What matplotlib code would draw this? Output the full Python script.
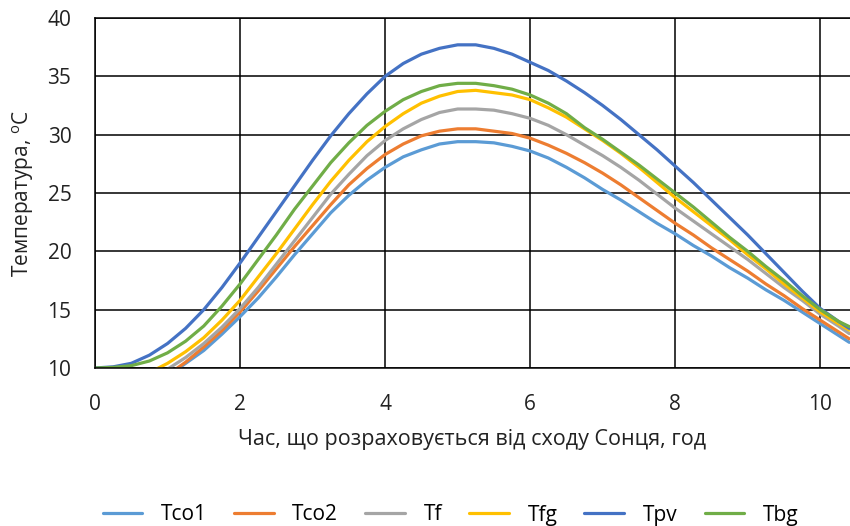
import matplotlib
matplotlib.use("Agg")
import matplotlib.pyplot as plt

plt.rcParams['font.family'] = ['Open Sans', 'DejaVu Sans']

hours = [0, 0.25, 0.5, 0.75, 1.0, 1.25, 1.5, 1.75, 2.0, 2.25, 2.5, 2.75,
         3.0, 3.25, 3.5, 3.75, 4.0, 4.25, 4.5, 4.75, 5.0, 5.25, 5.5, 5.75,
         6.0, 6.25, 6.5, 6.75, 7.0, 7.25, 7.5, 7.75, 8.0, 8.25, 8.5, 8.75,
         9.0, 9.25, 9.5, 9.75, 10.0, 10.25, 10.4]

t_co1 = [7.0, 7.2, 7.6, 8.3, 9.3, 10.4, 11.5, 12.9, 14.4, 16.0, 17.8, 19.7,
         21.5, 23.3, 24.8, 26.1, 27.2, 28.1, 28.7, 29.2, 29.4, 29.4, 29.3, 29.0,
         28.6, 28.0, 27.2, 26.3, 25.3, 24.4, 23.4, 22.4, 21.5, 20.5, 19.6, 18.6,
         17.7, 16.7, 15.8, 14.8, 13.8, 12.8, 12.2]
t_co2 = [7.0, 7.2, 7.7, 8.4, 9.4, 10.5, 11.8, 13.2, 14.8, 16.6, 18.5, 20.4,
         22.2, 24.0, 25.7, 27.1, 28.3, 29.2, 29.9, 30.3, 30.5, 30.5, 30.3, 30.1,
         29.7, 29.1, 28.4, 27.6, 26.7, 25.7, 24.6, 23.5, 22.4, 21.4, 20.3, 19.3,
         18.3, 17.2, 16.2, 15.1, 14.1, 13.1, 12.5]
t_f = [7.5, 7.7, 8.2, 8.9, 9.9, 10.9, 12.1, 13.5, 15.1, 16.9, 18.9, 20.9,
       22.9, 24.9, 26.6, 28.2, 29.5, 30.5, 31.3, 31.9, 32.2, 32.2, 32.1, 31.8,
       31.4, 30.8, 30.0, 29.1, 28.2, 27.2, 26.1, 24.9, 23.7, 22.6, 21.5, 20.4,
       19.3, 18.1, 16.9, 15.8, 14.6, 13.6, 12.95]
t_fg = [8.5, 8.7, 9.0, 9.6, 10.4, 11.4, 12.6, 14.1, 15.8, 17.8, 19.8, 21.9,
        24.0, 26.0, 27.8, 29.4, 30.7, 31.8, 32.7, 33.3, 33.7, 33.8, 33.6, 33.4,
        33.0, 32.3, 31.5, 30.5, 29.5, 28.4, 27.2, 25.9, 24.6, 23.4, 22.2, 21.0,
        19.7, 18.5, 17.2, 16.0, 14.8, 13.8, 13.25]
t_pv = [10.0, 10.1, 10.4, 11.1, 12.1, 13.4, 15.0, 16.9, 19.0, 21.2, 23.4, 25.6,
        27.8, 29.9, 31.8, 33.5, 35.0, 36.1, 36.9, 37.4, 37.7, 37.7, 37.4, 36.9,
        36.2, 35.5, 34.6, 33.6, 32.5, 31.3, 30.0, 28.7, 27.3, 25.9, 24.4, 22.9,
        21.4, 19.8, 18.2, 16.6, 15.1, 14.0, 13.4]
t_bg = [10.0, 10.05, 10.2, 10.6, 11.3, 12.3, 13.6, 15.3, 17.2, 19.3, 21.4, 23.6,
        25.6, 27.6, 29.3, 30.8, 32.0, 33.0, 33.7, 34.2, 34.4, 34.4, 34.2, 33.9,
        33.4, 32.7, 31.8, 30.6, 29.6, 28.5, 27.4, 26.2, 25.0, 23.8, 22.5, 21.2,
        20.0, 18.7, 17.5, 16.2, 15.0, 14.0, 13.55]

series_names = ["Tco1", "Tco2", "Tf", "Tfg", "Tpv", "Tbg"]
series_values = [t_co1, t_co2, t_f, t_fg, t_pv, t_bg]
colors = ["#5B9BD5", "#ED7D31", "#A5A5A5", "#FFC000", "#4472C4", "#70AD47"]

x_ticks = [0, 2, 4, 6, 8, 10]
y_ticks = [10, 15, 20, 25, 30, 35, 40]

fig = plt.figure(figsize=(8.5, 5.26), dpi=100)
ax = fig.add_axes([95/850, 1 - 368/526, 1 - 95/850, (368 - 18)/526])

for name, vals, c in zip(series_names, series_values, colors):
    ax.plot(hours, vals, color=c, lw=2.3, label=name, solid_joinstyle='round',
            solid_capstyle='round')

ax.set_xlim(0, 10.41)
ax.set_ylim(10, 40)
ax.set_xticks(x_ticks)
ax.set_yticks(y_ticks)
ax.tick_params(length=0, labelsize=15, colors='#222222')
ax.tick_params(axis='x', pad=19)
ax.tick_params(axis='y', pad=17)
ax.grid(True, color='black', lw=1.1)
ax.set_axisbelow(True)
for s in ['left', 'bottom', 'top']:
    ax.spines[s].set_color('black')
    ax.spines[s].set_linewidth(1.1)
ax.spines['right'].set_visible(False)

ax.set_xlabel("Час, що розраховується від сходу Сонця, год", fontsize=15.5,
              color='#222222', labelpad=10)
ax.set_ylabel("Температура, $^{\\mathregular{o}}$С", fontsize=15,
              color='#222222', labelpad=8)

fig.legend(loc='center', bbox_to_anchor=(0.53, 1 - 515/526), ncol=6,
           frameon=False, fontsize=15, handlelength=1.9, handletextpad=0.9,
           columnspacing=1.3)

fig.savefig("out.png", dpi=100)
